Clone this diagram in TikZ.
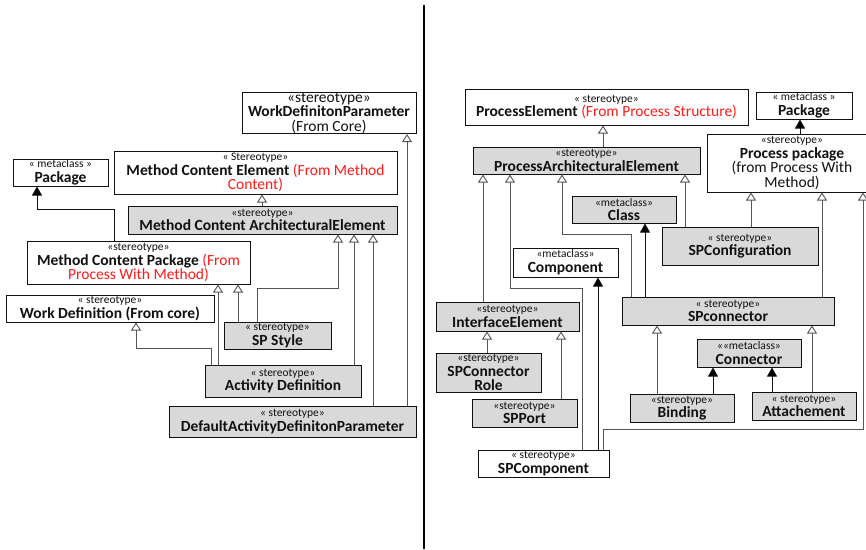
\documentclass[tikz,border=0pt]{standalone}
\usepackage{fontspec}
\setmainfont{Carlito}
\usetikzlibrary{arrows.meta}
\definecolor{boxgray}{HTML}{D9D9D9}
\definecolor{redtxt}{HTML}{FF1A1A}
\definecolor{linegray}{HTML}{555555}
\definecolor{inkc}{HTML}{111111}

% small stereotype line and red origin note
\newcommand\stp[1]{{\fontsize{11.5}{12}\selectfont #1}}
\newcommand\rd[1]{\textcolor{redtxt}{#1}}

\begin{document}
\begin{tikzpicture}[x=1pt,y=-1pt,
  box/.style={draw=inkc, line width=1pt, fill=white, inner sep=0pt, align=center,
    text=inkc, font=\fontsize{15.5}{14.6}\selectfont},
  gbox/.style={box, fill=boxgray},
  gen/.style={draw=linegray, line width=0.9pt,
    -{Triangle[length=8pt,width=10pt,fill=white]}},
  dep/.style={draw=inkc, line width=0.9pt,
    -{Triangle[length=9pt,width=10pt,fill=black]}}]
\useasboundingbox (0,0) rectangle (866,549);
\clip (0,0) rectangle (866,549);

% ---------- left half: method content ----------
\node[box, minimum width=174pt, minimum height=40pt] (wdp) at (329,113)
  {«stereotype»\\{\bfseries WorkDefinitonParameter}\\(From Core)};
\node[box, minimum width=95pt, minimum height=27pt] (pkgL) at (60.5,172.5)
  {\stp{« metaclass »}\\{\bfseries Package}};
\node[box, minimum width=283pt, minimum height=43pt] (mce) at (255.5,172.5)
  {\stp{« Stereotype»}\\{\bfseries Method Content Element} \rd{(From Method}\\\rd{Content)}};
\node[gbox, minimum width=269pt, minimum height=28pt] (mcae) at (262.5,220)
  {\stp{«stereotype»}\\{\bfseries Method Content ArchitecturalElement}};
\node[box, minimum width=223pt, minimum height=43pt] (mcp) at (138.5,262.5)
  {\stp{«stereotype»}\\{\bfseries Method Content Package} \rd{(From}\\\rd{Process With Method)}};
\node[box, minimum width=208pt, minimum height=27pt] (wd) at (110,308.5)
  {\stp{« stereotype»}\\{\bfseries Work Definition (From core)}};
\node[gbox, minimum width=107pt, minimum height=27pt] (sps) at (277.5,335.5)
  {\stp{« stereotype»}\\{\bfseries SP Style}};
\node[gbox, minimum width=156pt, minimum height=32pt] (ad) at (283,381)
  {\stp{« stereotype»}\\{\bfseries Activity Definition}};
\node[gbox, minimum width=247pt, minimum height=31pt] (dadp) at (292.5,421.5)
  {\stp{« stereotype»}\\{\bfseries DefaultActivityDefinitonParameter}};

% columns and bends of the left connectors
\coordinate (c262) at (262,0);
\coordinate (c218) at (218,0);
\coordinate (c238) at (238,0);
\coordinate (c354) at (354,0);
\coordinate (c373) at (373,0);
\coordinate (c407) at (407,0);
\coordinate (k1a) at (114,209);
\coordinate (k1) at (37,209);
\coordinate (k2a) at (211,348);
\coordinate (k2b) at (136,348);
\coordinate (k3a) at (257,288);
\coordinate (k3b) at (338,288);

\draw[gen] (mcae.north -| c262) -- (mce.south -| c262);
\draw[dep] (mcp.north -| k1a) -- (k1a) -- (k1) -- (pkgL.south -| k1);
\draw[gen] (ad.north -| c218) -- (mcp.south -| c218);
\draw[gen] (sps.north -| c238) -- (mcp.south -| c238);
\draw[gen] (ad.north -| k2a) -- (k2a) -- (k2b) -- (wd.south -| k2b);
\draw[gen] (sps.north -| k3a) -- (k3a) -- (k3b) -- (mcae.south -| k3b);
\draw[gen] (ad.north -| c354) -- (mcae.south -| c354);
\draw[gen] (dadp.north -| c373) -- (mcae.south -| c373);
\draw[gen] (dadp.north -| c407) -- (wdp.south -| c407);

% ---------- divider ----------
\draw[line width=2.6pt, draw=black] (424,5) -- (424,549);

% ---------- right half: process structure ----------
\node[box, minimum width=283pt, minimum height=36pt] (pe) at (606.5,107)
  {\stp{« stereotype»}\\{\bfseries ProcessElement} \rd{(From Process Structure)}};
\node[box, minimum width=96pt, minimum height=27pt] (pkgR) at (804,105.5)
  {\stp{« metaclass »}\\{\bfseries Package}};
\node[gbox, minimum width=227pt, minimum height=27pt] (pae) at (586.5,160.5)
  {\stp{«stereotype»}\\{\bfseries ProcessArchitecturalElement}};
\node[box, minimum width=170pt, minimum height=58pt] (pp) at (792,163)
  {\stp{«stereotype»}\\{\bfseries Process package}\\(from Process With\\Method)};
\node[gbox, minimum width=104pt, minimum height=27pt] (cls) at (624,209.5)
  {\stp{«metaclass»}\\{\bfseries Class}};
\node[gbox, minimum width=156pt, minimum height=38pt] (spcfg) at (740,246)
  {\stp{« stereotype»}\\{\bfseries SPConfiguration}};
\node[box, minimum width=105pt, minimum height=29pt] (comp) at (565.5,262.5)
  {\stp{«metaclass»}\\{\bfseries Component}};
\node[gbox, minimum width=143pt, minimum height=29pt] (ie) at (507.5,316.5)
  {\stp{«stereotype»}\\{\bfseries InterfaceElement}};
\node[gbox, minimum width=105pt, minimum height=39pt] (spcr) at (488.5,372.5)
  {\stp{«stereotype»}\\{\bfseries SPConnector}\\{\bfseries Role}};
\node[gbox, minimum width=105pt, minimum height=28pt] (spport) at (524.5,413)
  {\stp{«stereotype»}\\{\bfseries SPPort}};
\node[box, minimum width=131pt, minimum height=27pt] (spcomp) at (543.5,463.5)
  {\stp{« stereotype»}\\{\bfseries SPComponent}};
\node[gbox, minimum width=212pt, minimum height=28pt] (spconn) at (728,311)
  {\stp{« stereotype»}\\{\bfseries SPconnector}};
\node[gbox, minimum width=104pt, minimum height=28pt] (conn) at (749,353)
  {\stp{««metaclass»}\\{\bfseries Connector}};
\node[gbox, minimum width=104pt, minimum height=28pt] (bind) at (682,408)
  {\stp{«stereotype»}\\{\bfseries Binding}};
\node[gbox, minimum width=104pt, minimum height=28pt] (att) at (804,406)
  {\stp{« stereotype»}\\{\bfseries Attachement}};

% columns and bends of the right connectors
\coordinate (c603) at (603,0);
\coordinate (c800) at (800,0);
\coordinate (c685) at (685,0);
\coordinate (c751) at (751,0);
\coordinate (c822) at (822,0);
\coordinate (c645) at (645,0);
\coordinate (c483) at (483,0);
\coordinate (c487) at (487,0);
\coordinate (c561) at (561,0);
\coordinate (c657) at (657,0);
\coordinate (c812) at (812,0);
\coordinate (c713) at (713,0);
\coordinate (c772) at (772,0);
\coordinate (c598) at (598,0);
\coordinate (k4a) at (603,429);
\coordinate (k4b) at (863,429);
\coordinate (k5a) at (631,234);
\coordinate (k5b) at (562,234);
\coordinate (k6a) at (582,288);
\coordinate (k6b) at (510,288);

\draw[gen] (pae.north -| c603) -- (pe.south -| c603);
\draw[dep] (pp.north -| c800) -- (pkgR.south -| c800);
\draw[gen] (spcfg.north -| c685) -- (pae.south -| c685);
\draw[gen] (spcfg.north -| c751) -- (pp.south -| c751);
\draw[gen] (spconn.north -| c822) -- (pp.south -| c822);
\draw[gen] (spcomp.north -| k4a) -- (k4a) -- (k4b) -- (pp.south -| k4b);
\draw[gen] (spconn.north -| k5a) -- (k5a) -- (k5b) -- (pae.south -| k5b);
\draw[dep] (spconn.north -| c645) -- (cls.south -| c645);
\draw[gen] (ie.north -| c483) -- (pae.south -| c483);
\draw[gen] (spcomp.north -| k6a) -- (k6a) -- (k6b) -- (pae.south -| k6b);
\draw[gen] (spcr.north -| c487) -- (ie.south -| c487);
\draw[gen] (spport.north -| c561) -- (ie.south -| c561);
\draw[gen] (bind.north -| c657) -- (spconn.south -| c657);
\draw[gen] (att.north -| c812) -- (spconn.south -| c812);
\draw[dep] (bind.north -| c713) -- (conn.south -| c713);
\draw[dep] (att.north -| c772) -- (conn.south -| c772);
\draw[dep] (spcomp.north -| c598) -- (comp.south -| c598);
\end{tikzpicture}
\end{document}
